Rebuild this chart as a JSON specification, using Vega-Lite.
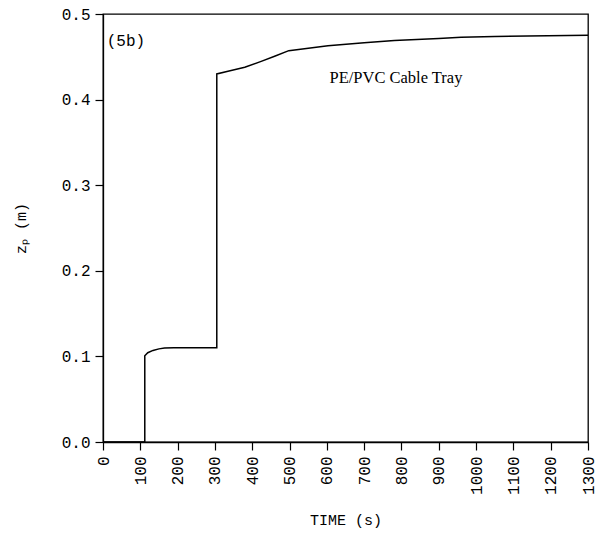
{
  "$schema": "https://vega.github.io/schema/vega-lite/v6.json",
  "width": 485,
  "height": 428,
  "autosize": {"type": "none"},
  "padding": {"left": 103, "top": 14, "right": 9, "bottom": 93},
  "background": "white",
  "config": {
    "view": {"stroke": "black", "strokeWidth": 1.3},
    "axis": {
      "grid": false,
      "domainColor": "black",
      "domainWidth": 1.3,
      "tickColor": "black",
      "tickWidth": 1.2,
      "tickSize": 8,
      "labelFont": "Liberation Mono",
      "labelFontSize": 16,
      "labelColor": "black",
      "titleFont": "Liberation Mono",
      "titleFontSize": 15,
      "titleFontWeight": "normal",
      "titleColor": "black"
    }
  },
  "encoding": {
    "x": {
      "field": "t", "type": "quantitative",
      "scale": {"domain": [0, 1300], "nice": false},
      "axis": {
        "values": [0, 100, 200, 300, 400, 500, 600, 700, 800, 900, 1000, 1100, 1200, 1300],
        "format": "d",
        "labelAngle": -90,
        "labelPadding": 6,
        "labelFlush": false,
        "labelOverlap": false,
        "title": "TIME (s)",
        "titlePadding": 18
      }
    },
    "y": {
      "field": "z", "type": "quantitative",
      "scale": {"domain": [0, 0.5], "nice": false},
      "axis": {
        "values": [0, 0.1, 0.2, 0.3, 0.4, 0.5],
        "format": ".1f",
        "labelPadding": 5,
        "labelFlush": false,
        "labelOverlap": false,
        "title": "zₚ (m)",
        "titlePadding": 33
      }
    }
  },
  "layer": [
    {
      "data": {
        "values": [
          {"i": 0, "t": 0, "z": 0},
          {"i": 1, "t": 112, "z": 0},
          {"i": 2, "t": 112, "z": 0.1008},
          {"i": 3, "t": 120, "z": 0.1043},
          {"i": 4, "t": 134, "z": 0.107},
          {"i": 5, "t": 150, "z": 0.1088},
          {"i": 6, "t": 165, "z": 0.1097},
          {"i": 7, "t": 190, "z": 0.110},
          {"i": 8, "t": 305, "z": 0.110},
          {"i": 9, "t": 305, "z": 0.430},
          {"i": 10, "t": 335, "z": 0.433},
          {"i": 11, "t": 380, "z": 0.4377},
          {"i": 12, "t": 424, "z": 0.4447},
          {"i": 13, "t": 460, "z": 0.4506},
          {"i": 14, "t": 498, "z": 0.4572},
          {"i": 15, "t": 603, "z": 0.463},
          {"i": 16, "t": 700, "z": 0.4663},
          {"i": 17, "t": 781, "z": 0.4689},
          {"i": 18, "t": 900, "z": 0.4715},
          {"i": 19, "t": 960, "z": 0.4728},
          {"i": 20, "t": 1050, "z": 0.4737},
          {"i": 21, "t": 1138, "z": 0.4743},
          {"i": 22, "t": 1300, "z": 0.4752}
        ]
      },
      "mark": {"type": "line", "color": "black", "strokeWidth": 1.5, "clip": true},
      "encoding": {
        "order": {"field": "i", "type": "quantitative"}
      }
    },
    {
      "data": {
        "values": [
          {"t": 10, "z": 0.468, "label": "(5b)"}
        ]
      },
      "mark": {"type": "text", "align": "left", "baseline": "middle", "font": "Liberation Mono", "fontSize": 16, "color": "black"},
      "encoding": {
        "text": {"field": "label"}
      }
    },
    {
      "data": {
        "values": [
          {"t": 607, "z": 0.425, "label": "PE/PVC Cable Tray"}
        ]
      },
      "mark": {"type": "text", "align": "left", "baseline": "middle", "font": "Liberation Serif", "fontSize": 16.5, "color": "black"},
      "encoding": {
        "text": {"field": "label"}
      }
    }
  ]
}
